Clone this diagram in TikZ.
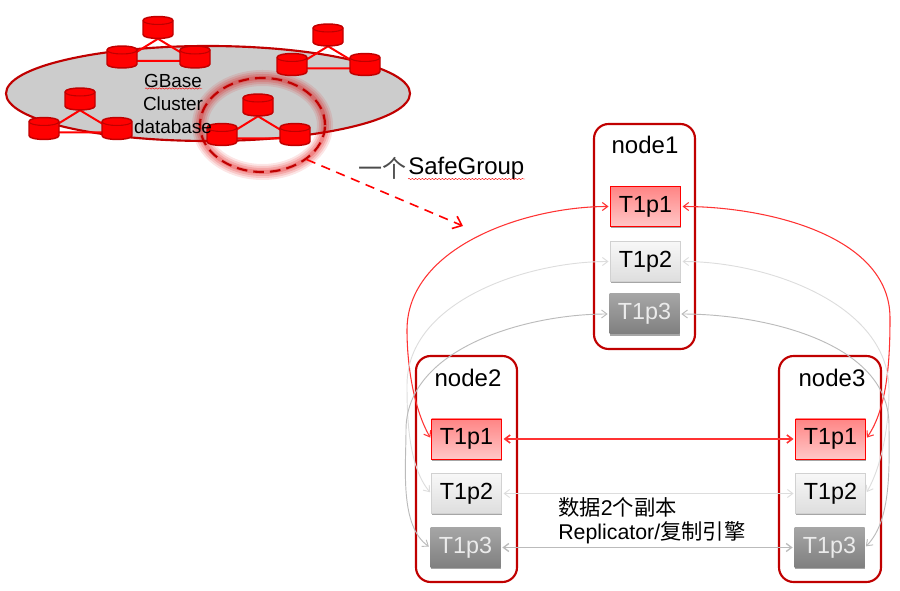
\documentclass[tikz,border=0pt]{standalone}
\usepackage{fontspec}
\setmainfont{Liberation Sans}
\newfontfamily\cjk{Noto Sans CJK SC}
\usetikzlibrary{shapes.geometric,decorations.pathmorphing,arrows.meta,shadows}
\definecolor{darkred}{HTML}{C00000}
\definecolor{linkred}{HTML}{FF3333}
\definecolor{linklight}{HTML}{DDDDDD}
\definecolor{linkgray}{HTML}{BBBBBB}
\newcommand{\cellpx}{*0.75pt}
\tikzset{
  dbpoint/.style={minimum width=30\cellpx, minimum height=22\cellpx, inner sep=0pt},
  dbbody/.style={draw=darkred, fill=red, line width=1.1pt},
  dbedge/.style={draw=darkred, line width=.8pt},
  dblink/.style={red, line width=1.5pt},
  nodebox/.style={draw=darkred, line width=1.6pt, rounded corners=11pt, fill=white, inner sep=0pt},
  partbox/.style={minimum width=70\cellpx, minimum height=40\cellpx, inner sep=0pt, font=\fontsize{17.5}{17.5}\selectfont,
    drop shadow={shadow xshift=0pt, shadow yshift=-1.4pt, fill=black!35, opacity=1}},
  partred/.style={partbox, draw=red, line width=.6pt, top color=red!48!white, bottom color=red!22!white},
  partlight/.style={partbox, draw=black!18, line width=.6pt, top color=black!3, bottom color=black!13},
  partgray/.style={partbox, text=white!92!black, top color=black!35, bottom color=black!50},
  nodelabel/.style={font=\fontsize{18}{18}\selectfont},
  linktip/.style={{Straight Barb[length=4pt,width=6pt]}-{Straight Barb[length=4pt,width=6pt]}, shorten >=1.2pt, shorten <=1.2pt},
  redlink/.style={linkred, line width=.8pt, linktip},
  lightlink/.style={linklight, line width=.7pt, linktip},
  graylink/.style={linkgray, line width=.7pt, linktip},
  squiggle/.style={red, line width=.3pt, decorate, decoration={snake, amplitude=.5pt, segment length=2.5pt}}
}
% one database drum
\newcommand{\dbdrum}[3]{
  \node[dbpoint] (#1) at (#2,#3) {};
  \begin{scope}[shift={(#2,#3)}]
    \draw[dbbody] (-15,-7) -- (-15,7) .. controls (-15,12.3) and (15,12.3) .. (15,7) -- (15,-7)
      .. controls (15,-12.3) and (-15,-12.3) .. (-15,-7) -- cycle;
    \draw[dbedge] (-15,-7) .. controls (-15,-1.7) and (15,-1.7) .. (15,-7);
  \end{scope}
}
% one group of three databases
\newcommand{\dbgroup}[3]{
  \dbdrum{#1t}{#2}{#3}
  \dbdrum{#1l}{#2-36}{#3+29.5}
  \dbdrum{#1r}{#2+37}{#3+29.5}
  \begin{pgfonlayer}{links}
    \draw[dblink] (#1t.south) -- ([shift={(0,4)}]#1l.center) -- ([shift={(0,4)}]#1r.center) -- cycle;
  \end{pgfonlayer}
}
% one box with its three partitions
\newcommand{\partstack}[5]{
  \node[partred] (#1a) at (#2,#3) {T1p1};
  \node[partlight] (#1b) at (#2,#4) {T1p2};
  \node[partgray] (#1c) at (#2-1,#5) {T1p3};
}
\pgfdeclarelayer{links}
\pgfsetlayers{links,main}
\begin{document}
\begin{tikzpicture}[x=0.75pt,y=-0.75pt]
  \useasboundingbox (0,0) rectangle (900,591);

  % Cluster ellipse
  \begin{pgfonlayer}{links}
    \node[ellipse, draw=darkred, fill=black!20, line width=1.6pt, minimum width=404\cellpx, minimum height=95\cellpx, inner sep=0pt] (cluster) at (208,93.5) {};
    % Glow
    \foreach \w/\o in {12/.10,9/.13,6/.16,3/.20}
      \draw[red!88!black, opacity=\o, line width=\w pt] (262.5,125) ellipse [x radius=62.5, y radius=47];
  \end{pgfonlayer}
  \node[ellipse, draw=darkred, dash pattern=on 8pt off 4.5pt, line width=1.6pt, minimum width=125\cellpx, minimum height=94\cellpx, inner sep=0pt] (safe) at (262.5,125) {};

  % Database groups
  \dbgroup{ga}{158}{27.5}
  \dbgroup{gb}{328}{35}
  \dbgroup{gc}{80}{99}
  \dbgroup{gd}{258}{105}

  \node[align=center, font=\fontsize{14.2}{17.2}\selectfont] (cname) at (173,104) {GBase\\Cluster\\database};
  \coordinate (gbl) at (145,88.5);
  \coordinate (gbr) at (202,88.5);
  \draw[squiggle] (gbl) -- (gbr);

  % SafeGroup label
  \node[anchor=west, inner sep=0pt, font=\fontsize{18}{18}\selectfont\cjk, text=black!70] (yige) at (358,168) {一个};
  \node[anchor=west, inner sep=0pt, font=\fontsize{18}{18}\selectfont] (sgroup) at (408,168) {SafeGroup};
  \coordinate (sgl) at (408,179);
  \coordinate (sgr) at (525,179);
  \draw[squiggle] (sgl) -- (sgr);

  % Dashed arrow
  \coordinate (arrowend) at (463,226);
  \draw[red, line width=1.2pt, dash pattern=on 7pt off 5pt, -{Straight Barb[length=6pt,width=10pt]}] (safe.-38) -- (arrowend);

  % Node boxes
  \node[nodebox, minimum width=101\cellpx, minimum height=225\cellpx] (node1) at (644.5,236.5) {};
  \node[nodebox, minimum width=101\cellpx, minimum height=226\cellpx] (node2) at (466.5,469) {};
  \node[nodebox, minimum width=102\cellpx, minimum height=226\cellpx] (node3) at (830,469) {};
  \node[nodelabel] (lab1) at (645,145) {node1};
  \node[nodelabel] (lab2) at (468,378) {node2};
  \node[nodelabel] (lab3) at (832,378) {node3};

  % Partitions
  \partstack{p}{645.5}{206.5}{261.5}{314}
  \partstack{q}{466.5}{439}{493.5}{547.5}
  \partstack{r}{830.5}{439}{493.5}{547.5}

  % Way points of the curved links
  \coordinate (redl) at (407,330);
  \coordinate (redr) at (890,318);
  \coordinate (lightl) at (407,385);
  \coordinate (lightr) at (889,390);
  \coordinate (grayl) at (406,430);
  \coordinate (grayr) at (889,425);

  % Links between node1 and node2, node3
  \draw[redlink] (pa.west) to[out=180,in=90,looseness=.9] (redl) to[out=-90,in=120,looseness=.8] (qa.west);
  \draw[redlink] (pa.east) to[out=0,in=90,looseness=.9] (redr) to[out=-90,in=55,looseness=.8] (ra.east);
  \draw[lightlink] (pb.west) to[out=180,in=90,looseness=.9] (lightl) to[out=-90,in=130,looseness=.8] (qb.west);
  \draw[lightlink] (pb.east) to[out=0,in=90,looseness=.9] (lightr) to[out=-90,in=60,looseness=.8] (rb.east);
  \draw[graylink] (pc.west) to[out=180,in=90,looseness=.9] (grayl) to[out=-90,in=145,looseness=.8] (qc.west);
  \draw[graylink] (pc.east) to[out=0,in=90,looseness=.9] (grayr) to[out=-90,in=45,looseness=.8] (rc.east);

  % Links between node2 and node3
  \draw[redlink, line width=1.2pt] (qa) -- (ra);
  \draw[lightlink] (qb) -- (rb);
  \draw[graylink, line width=1pt] (qc) -- (rc);

  % Replicator text
  \node[anchor=west, inner sep=0pt, font=\fontsize{16}{16}\selectfont] (copies) at (558,507) {{\cjk 数据}2{\cjk 个副本}};
  \node[anchor=west, inner sep=0pt, font=\fontsize{16}{16}\selectfont] (engine) at (558,533) {Replicator/{\cjk 复制引擎}};
\end{tikzpicture}
\end{document}
